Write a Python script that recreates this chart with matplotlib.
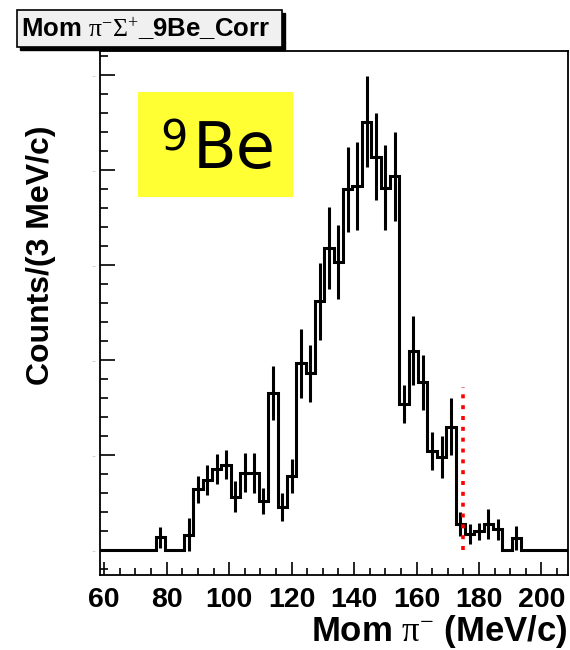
import matplotlib
matplotlib.use('Agg')
import matplotlib.pyplot as plt
import numpy as np
from matplotlib.patches import Rectangle
from matplotlib.ticker import MultipleLocator, FixedLocator

plt.rcParams['mathtext.fontset'] = 'custom'
plt.rcParams['mathtext.rm'] = 'Liberation Serif'
plt.rcParams['mathtext.it'] = 'Liberation Serif:italic'
plt.rcParams['mathtext.bf'] = 'Liberation Serif:bold'

# ---------------- data ----------------
bin_centers = list(range(60, 208, 3))          # MeV/c, 3 MeV/c bins
counts = [0, 0, 0, 0, 0, 0, 2.7, 0, 0, 3.2,
          12.8, 14.7, 17.0, 18.0, 11.2, 16.3, 16.3, 10.3, 33.1, 9.1,
          15.6, 39.3, 37.2, 52.4, 63.6, 60.7, 75.9, 76.6, 90.2, 82.8,
          76.3, 78.7, 30.7, 42.0, 35.3, 20.9, 19.5, 26.0, 5.4, 3.4,
          3.9, 5.5, 4.4, 0, 2.5, 0, 0, 0, 0, 0]
errors = [0, 0, 0, 0, 0, 0, 2.2, 0, 0, 3.5,
          2.8, 3.2, 3.2, 3.1, 3.3, 4.1, 4.2, 2.8, 5.7, 2.9,
          3.5, 7.3, 6.0, 8.1, 8.6, 7.8, 8.9, 9.2, 9.6, 9.1,
          8.9, 9.4, 4.0, 7.2, 5.8, 4.0, 4.4, 6.1, 2.5, 2.1,
          1.8, 3.2, 2.2, 0, 2.5, 0, 0, 0, 0, 0]
bin_width = 3
cut_position = 175
cut_height = 34.4
x_major_ticks = [60, 80, 100, 120, 140, 160, 180, 200]
y_major_ticks = [0, 20, 40, 60, 80, 100]
title_text = r'Mom $\mathrm{\pi^{-}\Sigma^{+}}$_9Be_Corr'
xlabel_text = r'Mom $\mathrm{\pi^{-}}$ (MeV/c)'
ylabel_text = 'Counts/(3 MeV/c)'

# ---------------- figure ----------------
W, H = 570, 650
fig = plt.figure(figsize=(W / 100, H / 100), dpi=100)
fig.patch.set_facecolor('white')

def fx(px):
    return px / W

def fy(py):
    return 1 - py / H

ax_left, ax_right, ax_top, ax_bottom = 99.5, 568, 51, 575
ax = fig.add_axes([fx(ax_left), fy(ax_bottom), fx(ax_right - ax_left), (ax_bottom - ax_top) / H])

centers = np.array(bin_centers, dtype=float)
vals = np.array(counts, dtype=float)
errs = np.array(errors, dtype=float)
edges = np.concatenate([centers - bin_width / 2, [centers[-1] + bin_width / 2]])

ax.stairs(vals, edges, baseline=None, color='black', lw=2.2, zorder=3)
m = errs > 0
ax.vlines(centers[m], vals[m] - errs[m], vals[m] + errs[m], color='black', lw=2.2, zorder=3)

ax.vlines([cut_position], 0, cut_height, colors='#ff0000', lw=2.6,
          linestyles=(0, (1.1, 1.9)), zorder=4)

ax.set_xlim(edges[0], edges[-1])
ax.set_ylim(-5.26, 105.05)

ax.xaxis.set_major_locator(FixedLocator(x_major_ticks))
ax.xaxis.set_minor_locator(MultipleLocator(5))
ax.yaxis.set_major_locator(FixedLocator(y_major_ticks))
ax.yaxis.set_minor_locator(MultipleLocator(4))

for s in ax.spines.values():
    s.set_linewidth(1.3)

ax.tick_params(axis='x', which='major', direction='in', length=9.5, width=1.2,
               labelsize=20.5, pad=8.5, top=False)
ax.tick_params(axis='x', which='minor', direction='in', length=5, width=1.2, top=False)
ax.tick_params(axis='y', which='major', direction='in', length=10.5, width=1.2,
               labelsize=8, pad=3, labelcolor='#c8c8c8', right=False)
ax.tick_params(axis='y', which='minor', direction='in', length=5.8, width=1.2, right=False)

ax.set_xticklabels([str(v) for v in x_major_ticks], fontfamily='Liberation Sans', fontweight='bold')
ax.set_yticklabels(['-' for _ in y_major_ticks])

ax.set_xlabel(xlabel_text, fontsize=25, fontweight='bold', fontfamily='Liberation Sans')
ax.xaxis.label.set_ha('right')
ax.xaxis.label.set_va('center')
ax.xaxis.set_label_coords(1.0, (H - 631 - (H - ax_bottom)) / (ax_bottom - ax_top))

ax.set_ylabel(ylabel_text, fontsize=23, fontweight='bold', fontfamily='Liberation Sans')
ax.yaxis.label.set_va('center')
ax.yaxis.label.set_ha('center')
ax.yaxis.set_label_coords((41 - ax_left) / (ax_right - ax_left),
                          (H - 255 - (H - ax_bottom)) / (ax_bottom - ax_top))

# yellow "9Be" box
bx0, bx1, by0, by1 = 138, 293, 92, 197
fig.patches.append(Rectangle((fx(bx0), fy(by1)), fx(bx1 - bx0), (by1 - by0) / H,
                             transform=fig.transFigure, facecolor='#ffff33',
                             edgecolor='none', zorder=5))
fig.text(fx(160), fy(150), '9', fontsize=31, fontfamily='DejaVu Sans',
         va='baseline', ha='left', zorder=6)
fig.text(fx(193), fy(168), 'Be', fontsize=46, fontfamily='DejaVu Sans',
         va='baseline', ha='left', zorder=6)

# title box with shadow
tx0, tx1, ty0, ty1 = 16.7, 281.7, 10, 46.7
fig.patches.append(Rectangle((fx(tx0 + 3), fy(ty1 + 3)), fx(tx1 - tx0), (ty1 - ty0) / H,
                             transform=fig.transFigure, facecolor='black',
                             edgecolor='black', lw=1.0, zorder=7))
fig.patches.append(Rectangle((fx(tx0), fy(ty1)), fx(tx1 - tx0), (ty1 - ty0) / H,
                             transform=fig.transFigure, facecolor='#f0f0f0',
                             edgecolor='black', lw=1.2, zorder=8))
fig.text(fx(21), fy(29), title_text, fontsize=18.5, fontweight='bold',
         fontfamily='Liberation Sans', va='center', ha='left', zorder=9)

fig.savefig('out.png', dpi=100)
